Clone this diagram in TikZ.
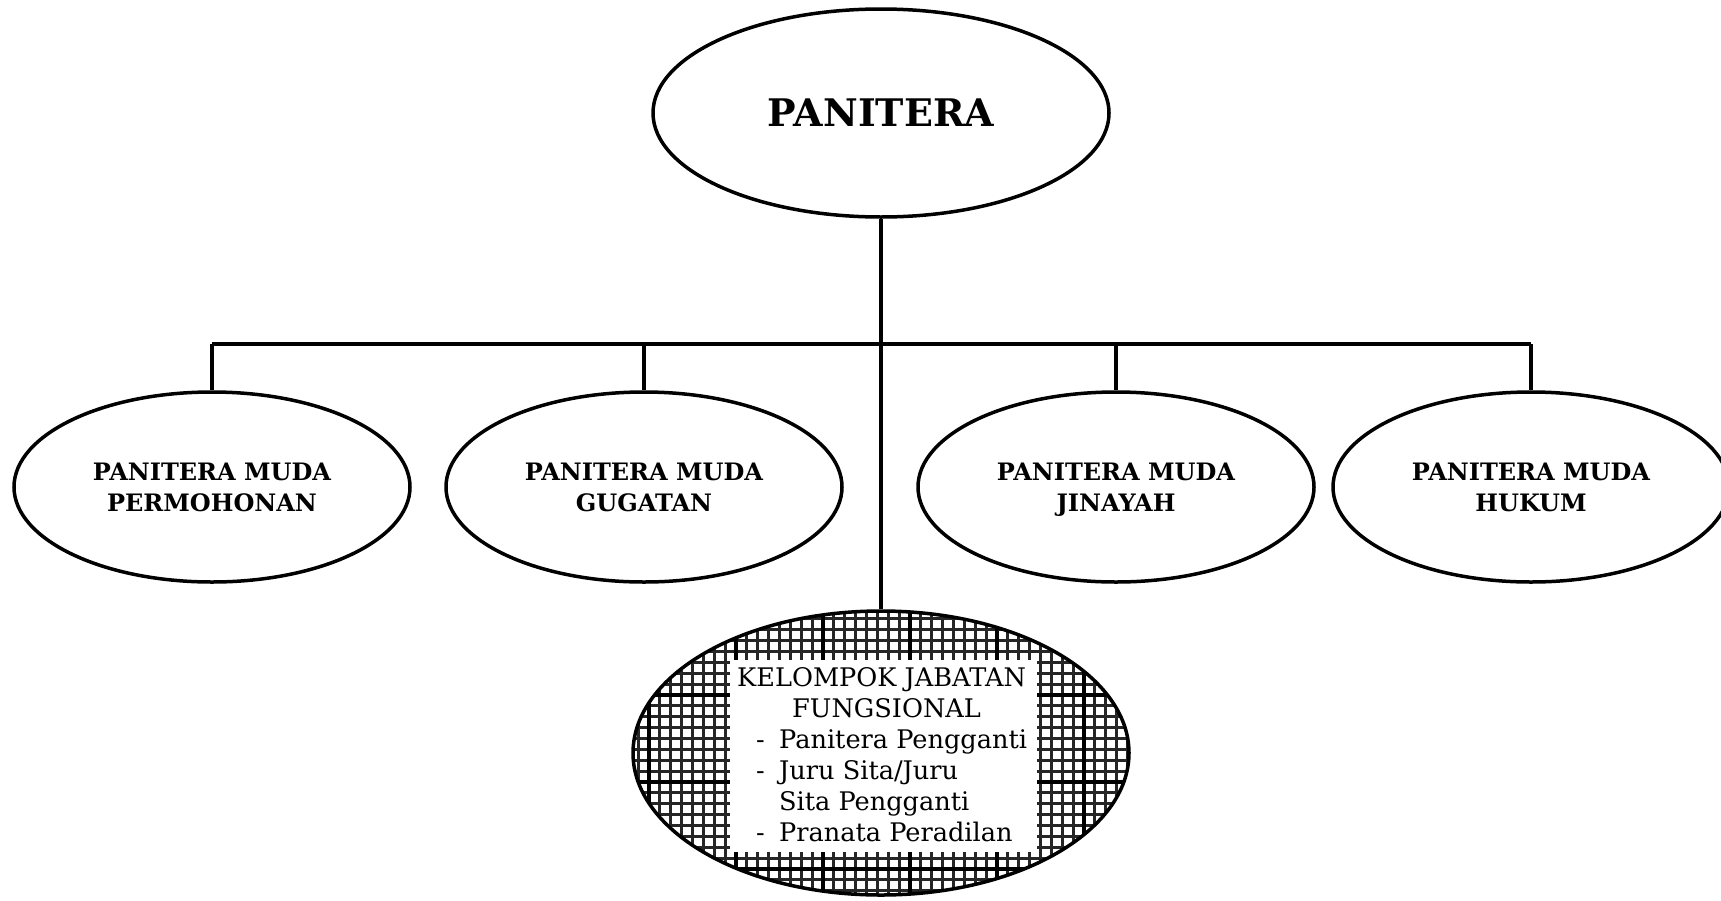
\documentclass[tikz,border=0pt]{standalone}
\usepackage{fontspec}
\setmainfont{DejaVu Serif}
\usetikzlibrary{shapes.geometric}
\begin{document}
\begin{tikzpicture}[x=1pt,y=-1pt,
  oval/.style={ellipse,draw,line width=3.5pt,inner sep=0pt,fill=white,align=center},
  link/.style={line width=3.5pt},
  big/.style={font=\fontsize{38}{46}\selectfont\bfseries},
  lbl/.style={font=\fontsize{24}{31}\selectfont\bfseries}]
\useasboundingbox (0,0) rectangle (1721,900);
\coordinate (j) at (881,344);
\node[oval,big,minimum width=456pt,minimum height=208pt] (pan) at (881,113) {PANITERA};
\node[oval,lbl,minimum width=396pt,minimum height=190pt] (m1) at (212,487) {PANITERA MUDA\\PERMOHONAN};
\node[oval,lbl,minimum width=396pt,minimum height=190pt] (m2) at (644,487) {PANITERA MUDA\\GUGATAN};
\node[oval,lbl,minimum width=396pt,minimum height=190pt] (m3) at (1116,487) {PANITERA MUDA\\\smash{J}INAYAH};
\node[oval,lbl,minimum width=396pt,minimum height=190pt] (m4) at (1531,487) {PANITERA MUDA\\HUKUM};
% hatched ellipse
\begin{scope}
  \clip (881,753) ellipse [x radius=248pt, y radius=142pt];
  \fill[white] (600,600) rectangle (1150,920);
  \begin{scope}[shift={(823,782)}]
    \draw[line width=2.8pt,step=10.875pt,black!85] (-300,-250) grid (350,150);
    \draw[line width=3.4pt,step=87pt] (-300,-250) grid (350,150);
  \end{scope}
\end{scope}
\fill[white] (730,660) rectangle (1037,852);
\node[anchor=north west,inner sep=0pt,align=left,font=\fontsize{25.6}{31}\selectfont] (kjtext) at (737,667)
  {KELOMPOK JABATAN\\
   \hspace*{55pt}FUNGSIONAL\\
   \makebox[42pt][l]{\hspace*{19pt}-}Panitera Pengganti\\
   \makebox[42pt][l]{\hspace*{19pt}-}Juru Sita/Juru\\
   \hspace*{42pt}Sita Pengganti\\
   \makebox[42pt][l]{\hspace*{19pt}-}Pranata Peradilan};
\node[ellipse,draw,line width=3.5pt,inner sep=0pt,minimum width=496pt,minimum height=284pt] (kjf) at (881,753) {};
\draw[link] (pan.south) -- (kjf.north);
\draw[link] (m1.north |- j) -- (m4.north |- j);
\draw[link] (m1.north |- j) -- (m1.north);
\draw[link] (m2.north |- j) -- (m2.north);
\draw[link] (m3.north |- j) -- (m3.north);
\draw[link] (m4.north |- j) -- (m4.north);
\end{tikzpicture}
\end{document}
